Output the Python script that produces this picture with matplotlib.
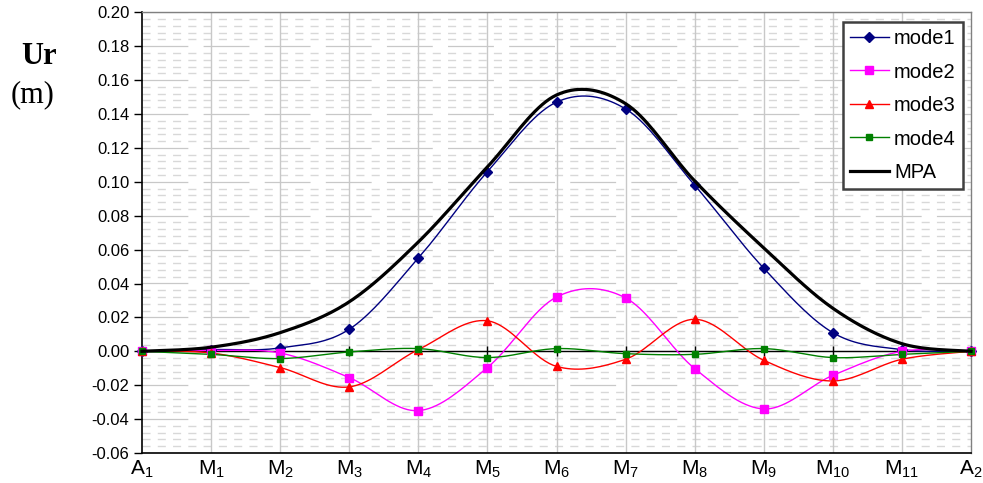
import numpy as np
import matplotlib
matplotlib.use("Agg")
import matplotlib.pyplot as plt
from matplotlib.ticker import MultipleLocator

plt.rcParams["font.family"] = ["Liberation Sans", "DejaVu Sans"]
plt.rcParams["mathtext.fontset"] = "custom"
plt.rcParams["mathtext.rm"] = "Liberation Sans"
plt.rcParams["mathtext.default"] = "regular"
plt.rcParams["lines.scale_dashes"] = False

# Positions along the section
labels = ["A$_1$", "M$_1$", "M$_2$", "M$_3$", "M$_4$", "M$_5$", "M$_6$",
          "M$_7$", "M$_8$", "M$_9$", "M$_{10}$", "M$_{11}$", "A$_2$"]

mode1 = [0.000, 0.001, 0.002, 0.013, 0.055, 0.106, 0.147, 0.143, 0.098, 0.049, 0.011, 0.001, 0.000]
mode2 = [0.000, 0.0005, -0.001, -0.0155, -0.035, -0.0096, 0.032, 0.0315, -0.0102, -0.034, -0.0142, 0.000, 0.000]
mode3 = [0.000, -0.001, -0.0096, -0.021, 0.001, 0.018, -0.0089, -0.0047, 0.0189, -0.0053, -0.0175, -0.0047, 0.000]
mode4 = [0.000, -0.0018, -0.0043, -0.0004, 0.0016, -0.0037, 0.0016, -0.0014, -0.0018, 0.0016, -0.0037, -0.0018, 0.000]
mpa = [0.000, 0.0024, 0.0110, 0.0292, 0.0645, 0.1088, 0.1512, 0.1461, 0.1005, 0.0610, 0.0254, 0.0045, 0.000]


def smooth(y, n=20):
    """Excel-like smoothed line: Catmull-Rom segments as cubic Bezier."""
    y = np.asarray(y, dtype=float)
    x = np.arange(len(y), dtype=float)
    px = np.concatenate([[x[0]], x, [x[-1]]])
    py = np.concatenate([[y[0]], y, [y[-1]]])
    xs, ys = [], []
    t = np.linspace(0, 1, n)
    for i in range(len(y) - 1):
        p0 = np.array([px[i + 1], py[i + 1]])
        p3 = np.array([px[i + 2], py[i + 2]])
        c1 = p0 + (p3 - np.array([px[i], py[i]])) / 6.0
        c2 = p3 - (np.array([px[i + 3], py[i + 3]]) - p0) / 6.0
        b = ((1 - t) ** 3)[:, None] * p0 + (3 * (1 - t) ** 2 * t)[:, None] * c1 \
            + (3 * (1 - t) * t ** 2)[:, None] * c2 + (t ** 3)[:, None] * p3
        xs.append(b[:, 0])
        ys.append(b[:, 1])
    return np.concatenate(xs), np.concatenate(ys)


fig = plt.figure(figsize=(9.83, 4.83), dpi=100)
ax = fig.add_axes([142 / 983, 1 - 453 / 483, 829 / 983, 440.7 / 483])

x = np.arange(len(labels))
ax.set_xlim(0, len(labels) - 1)
ax.set_ylim(-0.06, 0.20)

# grid: minor dashes, major long dashes, verticals solid
for v in np.arange(-0.06, 0.2001, 0.004):
    if abs(round(v / 0.02) * 0.02 - v) < 1e-6:
        ax.axhline(v, color="#c8c8c8", lw=0.9, dashes=(33, 11), zorder=0.5)
    else:
        ax.axhline(v, color="#d8d8d8", lw=1.0, dashes=(5.8, 5.2), zorder=0.5)
for xi in x[1:-1]:
    ax.axvline(xi, color="#c8c8c8", lw=1.0, zorder=0.6)

ax.axhline(0, color="black", lw=1.0, zorder=1)
ax.plot(x, np.zeros(len(x)), ls="none", marker="|", ms=7, mew=1.0,
        color="black", zorder=1)

series = [
    ("mode1", mode1, "#000080", "D", 5.0, 1.0),
    ("mode2", mode2, "#ff00ff", "s", 5.2, 1.0),
    ("mode3", mode3, "#ff0000", "^", 6.0, 1.0),
    ("mode4", mode4, "#008000", "s", 5.0, 1.0),
]
handles = []
for name, vals, col, mk, ms, lw in series:
    sx, sy = smooth(vals)
    ax.plot(sx, sy, color=col, lw=lw, zorder=3, clip_on=False)
    ax.plot(x, vals, ls="none", marker=mk, ms=ms, color=col, zorder=4,
            clip_on=False)
    h, = ax.plot([], [], color=col, lw=lw, marker=mk, ms=ms, label=name)
    handles.append(h)

sx, sy = smooth(mpa)
ax.plot(sx, sy, color="black", lw=2.3, zorder=5, clip_on=False)
h, = ax.plot([], [], color="black", lw=2.3, label="MPA")
handles.append(h)

ax.yaxis.set_major_locator(MultipleLocator(0.02))
ax.yaxis.set_major_formatter(plt.FuncFormatter(lambda v, p: f"{v:.2f}"))
ax.tick_params(axis="y", direction="out", length=6, width=1, labelsize=12,
               pad=3)
ax.set_xticks(x)
ax.set_xticklabels(labels, fontsize=15)
ax.tick_params(axis="x", length=0, pad=4)

for side in ["top", "right"]:
    ax.spines[side].set_color("#808080")
    ax.spines[side].set_linewidth(1.0)
for side in ["left", "bottom"]:
    ax.spines[side].set_color("black")
    ax.spines[side].set_linewidth(1.2)

leg = ax.legend(handles=handles, loc="upper right",
                bbox_to_anchor=(0.990, 0.978), borderaxespad=0,
                fontsize=14.5, frameon=True, fancybox=False, framealpha=1,
                edgecolor="#404040", handlelength=1.95, handletextpad=0.25,
                labelspacing=0.72, borderpad=0.35)
leg.get_frame().set_linewidth(1.8)
leg.set_zorder(10)

fig.text(39 / 983, 1 - 57 / 483, "Ur", fontsize=22, fontweight="bold",
         family=["Liberation Serif", "DejaVu Serif"], ha="center", va="center")
fig.text(33 / 983, 1 - 95 / 483, "(m)", fontsize=22,
         family=["Liberation Serif", "DejaVu Serif"], ha="center", va="center")

fig.savefig("out.png", dpi=100)
